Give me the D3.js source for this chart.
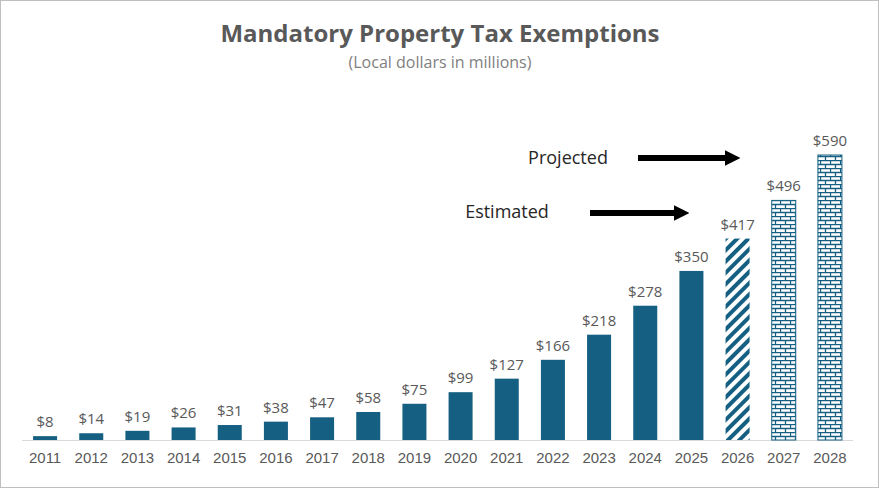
<!DOCTYPE html>
<html><head><meta charset="utf-8">
<script src="https://cdn.jsdelivr.net/npm/d3@7"></script>
<style>body{margin:0;background:#fff}svg{font-family:Aptos,"Open Sans","Liberation Sans",sans-serif}</style>
</head><body><svg width="879" height="488"></svg>
<script>
var years = ["2011","2012","2013","2014","2015","2016","2017","2018","2019","2020","2021","2022","2023","2024","2025","2026","2027","2028"];
var values = [8,14,19,26,31,38,47,58,75,99,127,166,218,278,350,417,496,590];
var kinds = ["a","a","a","a","a","a","a","a","a","a","a","a","a","a","a","e","p","p"];
var color = "#156082";

var svg = d3.select("svg");
svg.append("rect").attr("x",0.5).attr("y",0.5).attr("width",878).attr("height",487)
  .attr("fill","#fff").attr("stroke","#bfbfbf");

var defs = svg.append("defs");
var hatch = defs.append("pattern").attr("id","hatch").attr("patternUnits","userSpaceOnUse")
  .attr("width",8).attr("height",8).attr("patternTransform","rotate(45)");
hatch.append("rect").attr("width",4).attr("height",8).attr("fill",color);
var brick = defs.append("pattern").attr("id","brick").attr("patternUnits","userSpaceOnUse")
  .attr("width",10).attr("height",8);
brick.append("path").attr("d","M0,0.5H10M0,4.5H10M0.5,0V4.5M5.5,4.5V8")
  .attr("stroke",color).attr("stroke-width",1.3).attr("fill","none");

var x = d3.scaleBand().domain(years).range([22,853]).paddingInner(0.48).paddingOuter(0.24);
var y = d3.scaleLinear().domain([0,590]).range([440,155]);

svg.append("line").attr("x1",22).attr("x2",853).attr("y1",440.5).attr("y2",440.5).attr("stroke","#d9d9d9");

svg.selectAll(".bar").data(values).enter().append("rect")
  .attr("x",(d,i)=>x(years[i])).attr("width",x.bandwidth())
  .attr("y",d=>y(d)).attr("height",d=>440-y(d))
  .attr("fill",(d,i)=>kinds[i]=="a"?color:kinds[i]=="e"?"url(#hatch)":"url(#brick)")
  .attr("stroke",(d,i)=>kinds[i]=="p"?color:"none");

svg.selectAll(".lbl").data(values).enter().append("text")
  .attr("x",(d,i)=>x(years[i])+x.bandwidth()/2).attr("y",d=>y(d)-9)
  .attr("text-anchor","middle").attr("font-size",15).attr("fill","#595959").text(d=>"$"+d);

var xAxis = svg.append("g").attr("transform","translate(0,440)")
  .call(d3.axisBottom(x).tickSize(0).tickPadding(12));
xAxis.select(".domain").remove();
xAxis.selectAll("text").attr("font-size",15).attr("fill","#595959").attr("font-family","inherit");

svg.append("text").attr("x",440).attr("y",42).attr("text-anchor","middle").attr("font-size",24)
  .attr("font-weight","bold").attr("fill","#595959").text("Mandatory Property Tax Exemptions");
svg.append("text").attr("x",440).attr("y",68).attr("text-anchor","middle").attr("font-size",16)
  .attr("fill","#7f7f7f").text("(Local dollars in millions)");

defs.append("marker").attr("id","arr").attr("viewBox","0 0 10 10").attr("refX",2).attr("refY",5)
  .attr("markerWidth",2.6).attr("markerHeight",3.2).attr("orient","auto")
  .append("path").attr("d","M0,0L10,5L0,10Z").attr("fill","#000");
var notes = [{t:"Projected",tx:568,ty:164,x1:638,x2:728,yy:158},{t:"Estimated",tx:507,ty:218,x1:590,x2:677,yy:213}];
notes.forEach(n=>{
  svg.append("text").attr("x",n.tx).attr("y",n.ty).attr("text-anchor","middle").attr("font-size",18)
    .attr("fill","#262626").text(n.t);
  svg.append("line").attr("x1",n.x1).attr("x2",n.x2).attr("y1",n.yy).attr("y2",n.yy)
    .attr("stroke","#000").attr("stroke-width",6).attr("marker-end","url(#arr)");
});
</script></body></html>
